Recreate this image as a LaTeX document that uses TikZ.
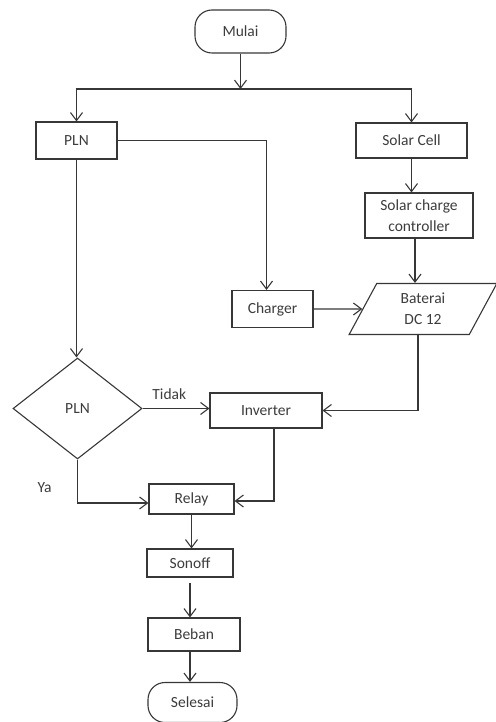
\documentclass[tikz,border=0pt]{standalone}
\usepackage{fontspec}
\setmainfont{Carlito}
\usetikzlibrary{arrows.meta,shapes.geometric}
\definecolor{lc}{RGB}{55,55,55}
\definecolor{tc}{RGB}{60,60,60}
\tikzset{box/.style={draw=lc,line width=1.1pt,text=tc,inner sep=2pt,align=center},
 term/.style={box,rounded corners=17pt},
 dec/.style={box,diamond,inner sep=0pt},
 io/.style={box,trapezium,trapezium left angle=68,trapezium right angle=112,trapezium stretches=true},
 lbl/.style={text=tc,inner sep=0pt},
 arr/.style={draw=lc,line width=1.1pt,-{Straight Barb[length=8pt,width=12pt]}},
 every node/.style={font=\fontsize{15.5}{21}\selectfont}}

\begin{document}
\begin{tikzpicture}[x=1pt,y=-1pt]
\useasboundingbox (0,0) rectangle (495,722);
\node[term,minimum width=91pt,minimum height=43pt] (mul) at (240.5,31.5) {Mulai};
\coordinate (sp) at (240.5,89);
\node[box,minimum width=81pt,minimum height=37pt] (pln) at (76.5,140.5) {PLN};
\node[box,minimum width=111pt,minimum height=35pt] (sc) at (411.5,140.5) {Solar Cell};
\node[box,minimum width=108pt,minimum height=45pt] (scc) at (419,215.5) {Solar charge\\controller};
\node[box,minimum width=81pt,minimum height=37pt] (chg) at (272.5,309) {Charger};
\node[io,minimum width=148pt,minimum height=51pt] (bat) at (423,309) {Baterai\\DC 12};
\node[dec,minimum width=129pt,minimum height=101pt] (dec) at (77.5,408.5) {PLN};
\node[box,minimum width=112pt,minimum height=35pt] (inv) at (266,410.5) {Inverter};
\node[box,minimum width=85pt,minimum height=30pt] (rel) at (191.5,499) {Relay};
\node[box,minimum width=86pt,minimum height=28pt] (son) at (190,563) {Sonoff};
\node[box,minimum width=92pt,minimum height=33pt] (beb) at (194,634.5) {Beban};
\node[term,minimum width=89pt,minimum height=40pt] (sel) at (192.5,702.5) {Selesai};
\node[lbl] (ya) at (44.5,488) {Ya};
\coordinate (c1) at ([xshift=-4pt]scc.south);
\coordinate (c2) at ([xshift=-6pt]chg.north);
% connectors
\draw[arr] (mul) -- (sp);
\draw[arr] (sp) -| (pln);
\draw[arr] (sp) -| (sc);
\draw[arr] (pln.east) -| (c2);
\draw[arr] (pln.south) -- (pln.south|-dec.north);
\draw[arr] (sc) -- (sc|-scc.north);
\draw[arr] (c1) -- (c1|-bat.north);
\draw[arr] (chg) -- (bat);
\draw[arr] ([xshift=-5pt]bat.south) |- (inv.east);
\draw[arr] (dec.east) -- (dec.east-|inv.west) node[lbl,above=8pt,pos=.4] (tdk) {Tidak};
\draw[arr] (dec.south) |- ([yshift=-4pt]rel.west);
\draw[arr] ([xshift=8pt]inv.south) |- ([yshift=-2pt]rel.east);
\draw[arr] (rel.south) -- (rel.south|-son.north);
\draw[arr,shorten <=5pt] (son.south) -- (son.south|-beb.north);
\draw[arr] (son.south|-beb.south) -- (son.south|-sel.north);
\end{tikzpicture}
\end{document}
